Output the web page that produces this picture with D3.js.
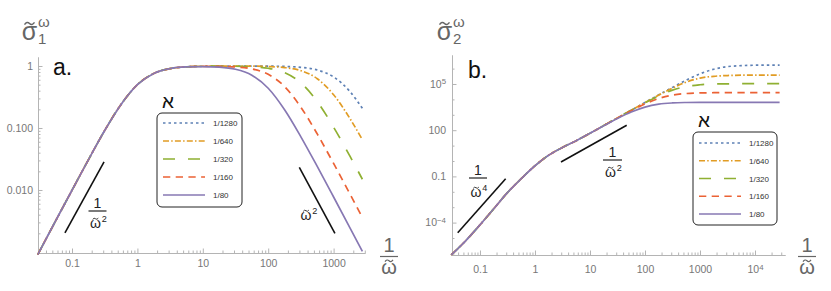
<!DOCTYPE html>
<html lang="en">
<head>
<meta charset="utf-8">
<title>sigma omega</title>
<script src="https://cdn.jsdelivr.net/npm/d3@7"></script>
<style>
  body { margin: 0; background: #fff; }
  svg text { font-family: "Liberation Sans", Arial, sans-serif; }
  .axis path, .axis line { stroke: #b4b4b4; }
  .axis text { fill: #777; font-size: 10.5px; font-family: "Liberation Sans", Arial, sans-serif; }
</style>
</head>
<body>
<script>
    // 1/omega grid, panel a (log-spaced points)
    var xLeft = [0.030, 0.056, 0.1, 0.178, 0.316, 0.562, 1, 1.78, 3.16, 5.62, 10,
        17.8, 31.6, 56.2, 100, 178, 316, 562, 1000, 1778, 2754];
    var sigma1_1280 = [9.1e-4, 3.16e-3, 9.9e-3, 0.0307, 0.091, 0.24, 0.5, 0.759, 0.908, 0.969, 0.990,
        0.996, 0.999, 0.998, 0.995, 0.984, 0.952, 0.863, 0.667, 0.387, 0.208];
    var sigma1_640 = [9.1e-4, 3.16e-3, 9.9e-3, 0.0307, 0.091, 0.24, 0.5, 0.759, 0.908, 0.969, 0.990,
        0.996, 0.997, 0.994, 0.981, 0.943, 0.840, 0.624, 0.344, 0.142, 0.0647];
    var sigma1_320 = [9.1e-4, 3.16e-3, 9.9e-3, 0.0307, 0.091, 0.24, 0.5, 0.759, 0.908, 0.969, 0.989,
        0.994, 0.990, 0.973, 0.920, 0.783, 0.535, 0.267, 0.103, 0.0351, 0.0149];
    var sigma1_160 = [9.1e-4, 3.16e-3, 9.9e-3, 0.0307, 0.091, 0.24, 0.5, 0.759, 0.908, 0.968, 0.987,
        0.985, 0.964, 0.898, 0.733, 0.466, 0.216, 0.0802, 0.0268, 8.63e-3, 3.61e-3];
    var sigma1_80 = [9.1e-4, 3.16e-3, 9.9e-3, 0.0307, 0.091, 0.24, 0.5, 0.759, 0.908, 0.966, 0.977,
        0.957, 0.885, 0.711, 0.438, 0.197, 0.0721, 0.024, 7.71e-3, 2.45e-3, 1.02e-3];

    // panel b
    var xRight = [0.030, 0.056, 0.1, 0.178, 0.316, 0.562, 1, 1.78, 3.16, 5.62, 10,
        17.8, 31.6, 56.2, 100, 178, 316, 562, 1000, 1778, 3162, 5623, 10000, 17783, 28000];
    var sigma2_1280 = [7.9e-7, 7.1e-6, 7.1e-5, 7.9e-4, 8.9e-3, 0.071, 0.49, 2.4, 7.6, 21, 63,
        200, 631, 2000, 6310, 19700, 60300, 1.78e5, 4.57e5, 9.12e5, 1.35e6, 1.55e6, 1.66e6, 1.68e6, 1.70e6];
    var sigma2_640 = [7.9e-7, 7.1e-6, 7.1e-5, 7.9e-4, 8.9e-3, 0.071, 0.49, 2.4, 7.6, 21, 63,
        200, 631, 2000, 6170, 19100, 53700, 1.32e5, 2.40e5, 3.16e5, 3.55e5, 3.72e5, 3.8e5, 3.8e5, 3.8e5];
    var sigma2_320 = [7.9e-7, 7.1e-6, 7.1e-5, 7.9e-4, 8.9e-3, 0.071, 0.49, 2.4, 7.6, 21, 63,
        200, 631, 1950, 6030, 16600, 39800, 69200, 89100, 1.0e5, 1.03e5, 1.05e5, 1.05e5, 1.05e5, 1.05e5];
    var sigma2_160 = [7.9e-7, 7.1e-6, 7.1e-5, 7.9e-4, 8.9e-3, 0.071, 0.49, 2.4, 7.6, 21, 63,
        200, 617, 1860, 5130, 11500, 19100, 24000, 26300, 27200, 27500, 27500, 27500, 27500, 27500];
    var sigma2_80 = [7.9e-7, 7.1e-6, 7.1e-5, 7.9e-4, 8.9e-3, 0.071, 0.49, 2.4, 7.6, 21, 63,
        195, 575, 1510, 3160, 4900, 5890, 6310, 6460, 6460, 6460, 6460, 6460, 6460, 6460];

    var alphaLabels = ["1/1280", "1/640", "1/320", "1/160", "1/80"];
    var colors = ["#5e81b5", "#e19c24", "#8fb032", "#eb6235", "#8778b3"];
    var dashes = ["2.5,3", "6,2.2,1.5,2.2", "12,13", "7.3,5.4", null];

    // reference slope segments [x0, y0, x1, y1] in data units
    var slopeA = [[0.078, 0.00203, 0.309, 0.0283], [299, 0.0232, 1047, 0.0020]];
    var slopeB = [[0.0394, 2.21e-5, 0.293, 0.0708], [2.97, 0.861, 46.5, 209]];

    var w = 831, h = 291;
    var svg = d3.select("body").append("svg")
            .attr("width", w)
            .attr("height", h);

    function minorTicks(lo, hi, every) {
        var out = [];
        for (var k = -7; k <= 7; k++) {
            for (var m = 1; m < 10; m++) {
                var v = m * Math.pow(10, k);
                if (v >= lo && v <= hi && !(m === 1 && every)) out.push(v);
            }
        }
        return out;
    }

    function sup(sel, base, exp) {
        sel.text(base).append("tspan").attr("dy", "-0.45em").attr("font-size", "0.75em").text(exp);
    }

    // a greek letter with a tilde drawn on top, cx = centre of the letter
    function tilded(cx, y, fs, color, ch, power) {
        svg.append("text").attr("x", cx).attr("y", y).attr("text-anchor", "middle")
                .attr("font-size", fs).attr("fill", color).text(ch);
        var a = fs * 0.2, b = fs * 0.045, ty = y - fs * 0.66;
        var p = d3.path();
        p.moveTo(cx - a, ty + b);
        p.quadraticCurveTo(cx - a / 2, ty - 2.2 * b, cx, ty);
        p.quadraticCurveTo(cx + a / 2, ty + 2.2 * b, cx + a, ty - b);
        svg.append("path").attr("d", p.toString()).attr("fill", "none")
                .attr("stroke", color).attr("stroke-width", Math.max(0.9, fs * 0.06));
        if (power) {
            svg.append("text").attr("x", cx + fs * 0.44).attr("y", y - fs * 0.42)
                    .attr("font-size", fs * 0.65).attr("fill", color).text(power);
        }
    }

    // stacked fraction 1 / omega~^n
    function frac(cx, y1, barY, yw, halfW, fs, power, color) {
        svg.append("text").attr("x", cx).attr("y", y1).attr("text-anchor", "middle")
                .attr("font-size", fs).attr("fill", color).text("1");
        svg.append("line").attr("x1", cx - halfW).attr("x2", cx + halfW)
                .attr("y1", barY).attr("y2", barY)
                .attr("stroke", color).attr("stroke-width", 1.2);
        tilded(power ? cx - 2 : cx, yw, fs, color, "\u03c9", power);
    }

    function panel(p) {
        var x = d3.scaleLog().domain(p.xDomain).range(p.xRange);
        var y = d3.scaleLog().domain(p.yDomain).range(p.yRange);
        var g = svg.append("g");

        // axes: minor ticks first, then the labelled ones
        g.append("g").attr("class", "axis").attr("transform", "translate(0," + p.yRange[0] + ")")
                .call(d3.axisBottom(x).tickValues(minorTicks(p.xDomain[0], p.xDomain[1], true))
                        .tickSize(-2.5).tickSizeOuter(0).tickFormat(""));
        g.append("g").attr("class", "axis").attr("transform", "translate(" + p.xRange[0] + ",0)")
                .call(d3.axisLeft(y).tickValues(p.yMinor)
                        .tickSize(-2.5).tickSizeOuter(0).tickFormat(""));
        var xa = g.append("g").attr("class", "axis").attr("transform", "translate(0," + p.yRange[0] + ")")
                .call(d3.axisBottom(x).tickValues(p.xTicks).tickSize(-4.5).tickSizeOuter(0)
                        .tickPadding(p.xPad).tickFormat(function (d, i) { return p.xLabels[i]; }));
        var ya = g.append("g").attr("class", "axis").attr("transform", "translate(" + p.xRange[0] + ",0)")
                .call(d3.axisLeft(y).tickValues(p.yTicks).tickSize(-4.5).tickSizeOuter(0)
                        .tickPadding(p.yPad).tickFormat(function (d, i) { return p.yLabels[i]; }));
        g.selectAll(".axis").attr("font-family", null).attr("font-size", null);
        xa.selectAll("text").each(function (d, i) {
            var l = p.xLabels[i];
            if (l.indexOf("^") > 0) sup(d3.select(this), l.split("^")[0], l.split("^")[1]);
        });
        ya.selectAll("text").each(function (d, i) {
            var l = p.yLabels[i];
            if (l.indexOf("^") > 0) sup(d3.select(this), l.split("^")[0], l.split("^")[1]);
        });

        var line = d3.line()
                .x(function (d) { return x(d[0]); })
                .y(function (d) { return y(d[1]); })
                .curve(d3.curveMonotoneX);

        p.series.forEach(function (s, i) {
            var pts = p.xs.map(function (v, j) { return [v, s[j]]; });
            g.append("path")
                    .attr("d", line(pts))
                    .attr("fill", "none")
                    .attr("stroke", colors[i])
                    .attr("stroke-width", 1.7)
                    .attr("stroke-dasharray", dashes[i]);
        });

        p.slopes.forEach(function (s) {
            g.append("line")
                    .attr("x1", x(s[0])).attr("y1", y(s[1]))
                    .attr("x2", x(s[2])).attr("y2", y(s[3]))
                    .attr("stroke", "#111").attr("stroke-width", 1.6);
        });

        // legend
        var L = p.legend;
        g.append("text").attr("x", L.x + 5).attr("y", L.y - 5)
                .attr("font-family", "DejaVu Sans").attr("font-size", 19).attr("fill", "#111")
                .text("\u05d0");
        g.append("rect").attr("x", L.x).attr("y", L.y).attr("width", L.w).attr("height", L.h)
                .attr("rx", 5).attr("fill", "#fff").attr("stroke", "#222").attr("stroke-width", 1);
        alphaLabels.forEach(function (lab, i) {
            var yy = L.y + L.r0 + i * L.step;
            g.append("line").attr("x1", L.x + 6).attr("x2", L.x + 48).attr("y1", yy).attr("y2", yy)
                    .attr("stroke", colors[i]).attr("stroke-width", 1.7)
                    .attr("stroke-dasharray", dashes[i]);
            g.append("text").attr("x", L.x + 56).attr("y", yy + 3)
                    .attr("font-size", 8).attr("fill", "#333").text(lab);
        });

        // panel letter
        g.append("text").attr("x", p.tag[0]).attr("y", p.tag[1])
                .attr("font-size", 23).attr("fill", "#111").text(p.tag[2]);

        // y axis title sigma~ with sub/superscripts
        tilded(p.ytitle[0] + 7.5, 40, 25, "#666", "\u03c3", null);
        svg.append("text").attr("x", p.ytitle[0] + 16).attr("y", 27)
                .attr("font-size", 15).attr("fill", "#666").text("\u03c9");
        svg.append("text").attr("x", p.ytitle[0] + 16).attr("y", 44)
                .attr("font-size", 15).attr("fill", "#666").text(p.ytitle[1]);

        // x axis title 1/omega~
        frac(p.xtitle, 252, 256.5, 274, 9, 20, null, "#666");
    }

    panel({
        xDomain: [0.0302, 3020], xRange: [38, 365],
        yDomain: [0.000963, 1.397], yRange: [253, 57],
        xTicks: [0.1, 1, 10, 100, 1000], xLabels: ["0.1", "1", "10", "100", "1000"], xPad: 7,
        yTicks: [0.01, 0.1, 1], yLabels: ["0.010", "0.100", "1"], yPad: 5,
        yMinor: minorTicks(0.000963, 1.397, true),
        xs: xLeft,
        series: [sigma1_1280, sigma1_640, sigma1_320, sigma1_160, sigma1_80],
        slopes: slopeA,
        legend: {x: 157, y: 113, w: 85, h: 94, r0: 10, step: 18},
        tag: [53, 75, "a."],
        ytitle: [22, "1"],
        xtitle: 389
    });

    panel({
        xDomain: [0.031, 35100], xRange: [452, 785],
        yDomain: [7.87e-7, 7.64e6], yRange: [255, 55],
        xTicks: [0.1, 1, 10, 100, 1000, 1e4], xLabels: ["0.1", "1", "10", "100", "1000", "10^4"], xPad: 11,
        yTicks: [1e-4, 0.1, 100, 1e5], yLabels: ["10^\u22124", "0.1", "100", "10^5"], yPad: 6,
        yMinor: [1e-6, 1e-5, 1e-3, 1e-2, 1, 10, 1000, 1e4, 1e6],
        xs: xRight,
        series: [sigma2_1280, sigma2_640, sigma2_320, sigma2_160, sigma2_80],
        slopes: slopeB,
        legend: {x: 693, y: 132, w: 84, h: 93, r0: 11, step: 17.75},
        tag: [468, 78, "b."],
        ytitle: [437, "2"],
        xtitle: 807
    });

    // in-plot slope labels
    frac(97.5, 208, 211, 228, 9, 14, "2", "#222");
    tilded(306, 220, 14, "#222", "\u03c9", "2");
    frac(478, 175, 178, 197, 9, 14, "4", "#222");
    frac(612.5, 157, 160, 177, 9.5, 14, "2", "#222");
</script>
</body>
</html>
